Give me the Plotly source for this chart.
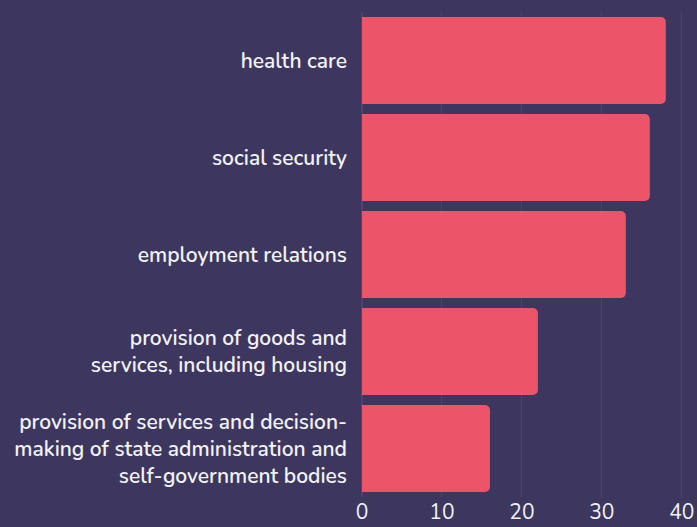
import plotly.graph_objects as go

categories = [
    "health care",
    "social security",
    "employment relations",
    "provision of goods and<br>services, including housing",
    "provision of services and decision-<br>making of state administration and<br>self-government bodies",
]
values = [38, 36, 33, 22, 16]
x_ticks = [0, 10, 20, 30, 40]

bg = "#3d3760"
bar_color = "#ec5569"
text_color = "#f2f2f5"

fig = go.Figure(
    go.Bar(
        x=values,
        y=categories,
        orientation="h",
        marker=dict(color=bar_color, cornerradius=5, line=dict(width=0)),
        hoverinfo="x+y",
    )
)

fig.update_layout(
    width=697,
    height=527,
    paper_bgcolor=bg,
    plot_bgcolor=bg,
    margin=dict(l=362, r=0, t=12, b=30),
    bargap=0.103,
    showlegend=False,
    font=dict(family="Nunito, Open Sans, sans-serif", color=text_color, size=20),
)

fig.update_xaxes(
    range=[0, 41.9],
    tickvals=x_ticks,
    showgrid=True,
    gridcolor="#4a4570",
    gridwidth=1,
    zeroline=True,
    zerolinecolor="#4a4570",
    showline=False,
    ticks="",
    ticklabelstandoff=0,
    tickfont=dict(size=21, color=text_color),
    automargin=False,
    fixedrange=True,
)

fig.update_yaxes(
    categoryorder="array",
    categoryarray=categories[::-1],
    showgrid=False,
    zeroline=False,
    ticks="",
    ticklabelstandoff=14,
    tickfont=dict(size=21, color=text_color, weight=600),
    automargin=False,
    fixedrange=True,
)

fig.write_html("out.html")
